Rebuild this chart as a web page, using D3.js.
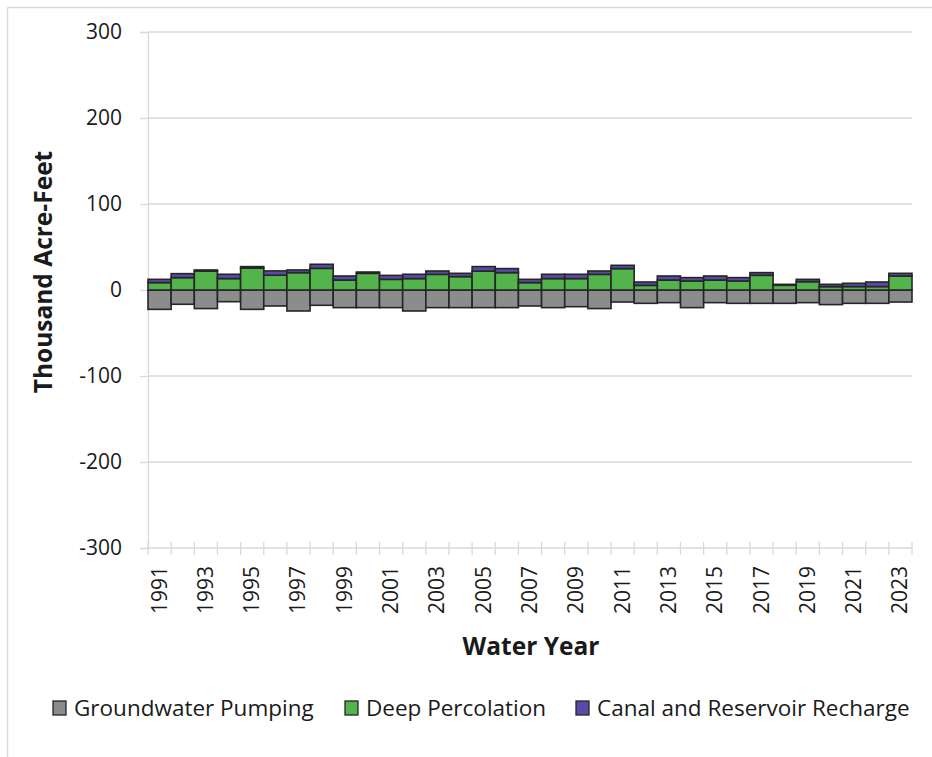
<!DOCTYPE html>
<html><head><meta charset="utf-8">
<script src="https://cdn.jsdelivr.net/npm/d3@7"></script>
<style>body{margin:0;background:#fff;} svg{display:block;font-family:"Open Sans",sans-serif;}</style>
</head><body>
<svg id="c" width="932" height="757"></svg>
<script>
const years = d3.range(1991, 2024);
const pumping = [-22.5,-16.6,-21.6,-13.6,-22.5,-18.6,-24.4,-17.8,-20.5,-20.5,-20.5,-24.4,-20.5,-20.5,-20.5,-20.5,-18.6,-20.5,-19.4,-21.6,-14,-15.5,-14.7,-20.5,-14.7,-15.5,-15.5,-15.5,-14.7,-17,-15.5,-15.5,-14];
const percolation = [8.6,14.4,22,13.3,25.5,17.2,20.2,25.2,11.6,19.4,12.4,13.3,18.2,15.6,22,20.2,8.6,13.3,13.3,18.2,24.9,5.4,11.6,10.5,11.6,10.5,17.1,5.5,9.7,3.9,4,4,16.3];
const recharge = [3.8,4.6,1.3,5,1.7,5,3.1,4.7,4.7,1.5,4.6,5,3.9,3.8,5.2,4.7,3.8,5,5,3.9,3.8,3.9,4.7,3.9,4.7,3.9,3.1,1.1,2.7,2.7,3.8,5.3,3.1];
const seriesNames = ["Groundwater Pumping","Deep Percolation","Canal and Reservoir Recharge"];
const colors = ["#8c8c8c","#52b44a","#5b48a8"];
const yTicks = [-300,-200,-100,0,100,200,300];

const svg = d3.select("#c");
// frame
svg.append("line").attr("x1",7.5).attr("x2",932).attr("y1",7.5).attr("y2",7.5).attr("stroke","#d9d9d9").attr("stroke-width",1.5);
svg.append("line").attr("x1",7.5).attr("x2",7.5).attr("y1",7.5).attr("y2",757).attr("stroke","#d9d9d9").attr("stroke-width",1.5);

const L=148, R=912, T=32, B=548;
const x = d3.scaleBand().domain(years).range([L,R]).padding(0);
const y = d3.scaleLinear().domain([-300,300]).range([B,T]);

// gridlines
svg.append("g").selectAll("line").data(yTicks.filter(d=>d!==-300)).join("line")
  .attr("x1",L).attr("x2",R).attr("y1",d=>y(d)).attr("y2",d=>y(d))
  .attr("stroke","#d9d9d9").attr("stroke-width",1.3);

// y axis
const ya = svg.append("g").attr("transform",`translate(${L},0)`)
  .call(d3.axisLeft(y).tickValues(yTicks).tickSize(8).tickPadding(18).tickFormat(d=>String(d)));
ya.select(".domain").attr("stroke","#d9d9d9").attr("stroke-width",1.3);
ya.selectAll(".tick line").attr("stroke","#d9d9d9").attr("stroke-width",1.3);
ya.selectAll("text").attr("font-size",21).attr("fill","#1a1a1a").attr("font-family","'Open Sans',sans-serif");

// x axis
const xa = svg.append("g").attr("transform",`translate(0,${B})`);
xa.append("line").attr("x1",L).attr("x2",R).attr("stroke","#d9d9d9").attr("stroke-width",1.3);
const bounds = years.map(d=>x(d)).concat([x(2023)+x.bandwidth()]);
xa.selectAll("line.t").data(bounds).join("line").attr("class","t")
  .attr("x1",d=>d).attr("x2",d=>d).attr("y1",-6).attr("y2",7).attr("stroke","#d9d9d9").attr("stroke-width",1.3);
xa.selectAll("text").data(years.filter((d,i)=>i%2===0)).join("text")
  .attr("transform",d=>`translate(${x(d)+x.bandwidth()/2+7},18) rotate(-90)`)
  .attr("text-anchor","end").attr("font-size",21).attr("fill","#1a1a1a").text(d=>d);

// stacked bars
const rows = years.map((yr,i)=>({yr, segs:[[pumping[i],0],[0,percolation[i]],[percolation[i],percolation[i]+recharge[i]]]}));
const g = svg.append("g");
rows.forEach(r=>{
  r.segs.forEach((s,k)=>{
    const y0 = y(Math.max(s[0],s[1])), y1 = y(Math.min(s[0],s[1]));
    g.append("rect").attr("x",x(r.yr)).attr("width",x.bandwidth())
      .attr("y",y0).attr("height",Math.max(0,y1-y0))
      .attr("fill",colors[k]).attr("stroke","#262626").attr("stroke-width",1.6);
  });
});

// titles
svg.append("text").attr("transform","translate(52,272) rotate(-90)").attr("text-anchor","middle")
  .attr("font-size",24.5).attr("font-weight","bold").attr("fill","#1a1a1a").text("Thousand Acre-Feet");
svg.append("text").attr("x",531).attr("y",655).attr("text-anchor","middle")
  .attr("font-size",24.5).attr("font-weight","bold").attr("fill","#1a1a1a").text("Water Year");

// legend
const legX = [53,345,576];
const lg = svg.append("g").selectAll("g").data(seriesNames).join("g").attr("transform",(d,i)=>`translate(${legX[i]},701)`);
lg.append("rect").attr("width",13).attr("height",14).attr("fill",(d,i)=>colors[i]).attr("stroke","#262626").attr("stroke-width",1.3);
lg.append("text").attr("x",21).attr("y",15).attr("font-size",22.5).attr("fill","#1a1a1a").text(d=>d);
</script>
</body></html>
